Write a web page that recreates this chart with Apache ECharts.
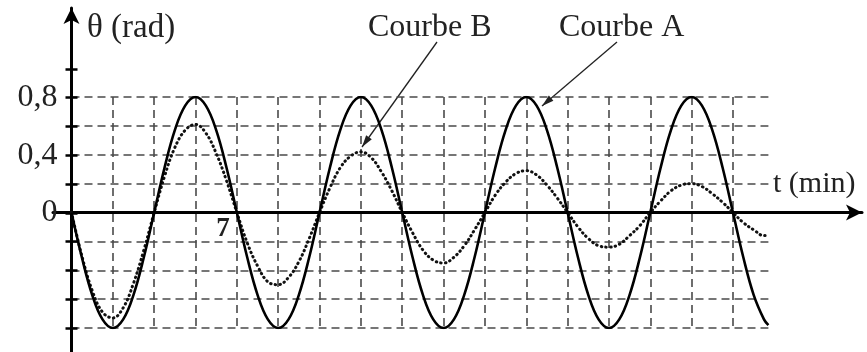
<!DOCTYPE html>
<html><head><meta charset="utf-8">
<script src="https://cdn.jsdelivr.net/npm/echarts@6/dist/echarts.min.js"></script>
<style>html,body{margin:0;padding:0;background:#fff}#c{width:867px;height:352px}</style>
</head><body><div id="c"></div>
<script>
// time samples (min)
const times = [
  0, 0.4375, 0.875, 1.3125, 1.75, 2.1875, 2.625, 3.0625,
  3.5, 3.9375, 4.375, 4.8125, 5.25, 5.6875, 6.125, 6.5625,
  7, 7.4375, 7.875, 8.3125, 8.75, 9.1875, 9.625, 10.0625,
  10.5, 10.9375, 11.375, 11.8125, 12.25, 12.6875, 13.125, 13.5625,
  14, 14.4375, 14.875, 15.3125, 15.75, 16.1875, 16.625, 17.0625,
  17.5, 17.9375, 18.375, 18.8125, 19.25, 19.6875, 20.125, 20.5625,
  21, 21.4375, 21.875, 22.3125, 22.75, 23.1875, 23.625, 24.0625,
  24.5, 24.9375, 25.375, 25.8125, 26.25, 26.6875, 27.125, 27.5625,
  28, 28.4375, 28.875, 29.3125, 29.5
];
// Courbe A (rad)
const courbeA = [
  0, -0.31, -0.57, -0.74, -0.8, -0.74, -0.57, -0.31,
  0, 0.31, 0.57, 0.74, 0.8, 0.74, 0.57, 0.31,
  0, -0.31, -0.57, -0.74, -0.8, -0.74, -0.57, -0.31,
  0, 0.31, 0.57, 0.74, 0.8, 0.74, 0.57, 0.31,
  0, -0.31, -0.57, -0.74, -0.8, -0.74, -0.57, -0.31,
  0, 0.31, 0.57, 0.74, 0.8, 0.74, 0.57, 0.31,
  0, -0.31, -0.57, -0.74, -0.8, -0.74, -0.57, -0.31,
  0, 0.31, 0.57, 0.74, 0.8, 0.74, 0.57, 0.31,
  0, -0.31, -0.57, -0.74, -0.78
];
// Courbe B (rad)
const courbeB = [
  0, -0.30, -0.54, -0.69, -0.73, -0.66, -0.49, -0.26,
  0, 0.25, 0.45, 0.57, 0.61, 0.55, 0.41, 0.22,
  0, -0.21, -0.37, -0.48, -0.50, -0.45, -0.34, -0.18,
  0, 0.17, 0.31, 0.39, 0.42, 0.38, 0.28, 0.15,
  0, -0.14, -0.26, -0.33, -0.35, -0.31, -0.23, -0.12,
  0, 0.12, 0.21, 0.27, 0.29, 0.26, 0.19, 0.10,
  0, -0.10, -0.18, -0.23, -0.24, -0.22, -0.16, -0.09,
  0, 0.08, 0.15, 0.19, 0.20, 0.18, 0.13, 0.07,
  0, -0.07, -0.12, -0.16, -0.16
];
const yLabelValues = [0, 0.4, 0.8];
const yLabelTexts = ['0', '0,4', '0,8'];
const xLabelValues = [7];
const xLabelTexts = ['7'];

const FONT = 'Liberation Serif';
const pairsA = times.map((t, i) => [t, courbeA[i]]);
const pairsB = times.map((t, i) => [t, courbeB[i]]);

function lookup(vals, texts, v) {
  for (let i = 0; i < vals.length; i++) if (Math.abs(vals[i] - v) < 1e-6) return texts[i];
  return '';
}
function arrowHead(x1, y1, x2, y2, len, w) {
  const dx = x2 - x1, dy = y2 - y1, L = Math.hypot(dx, dy), ux = dx / L, uy = dy / L;
  const bx = x2 - ux * len, by = y2 - uy * len;
  return [[x2, y2], [bx - uy * w / 2, by + ux * w / 2], [bx + uy * w / 2, by - ux * w / 2]];
}
const arrows = [
  [437, 42, 362, 147],
  [617, 42, 542, 106]
];
const graphics = [];
arrows.forEach(a => {
  graphics.push({ type: 'line', shape: { x1: a[0], y1: a[1], x2: a[2], y2: a[3] }, style: { stroke: '#222', lineWidth: 1.3 }, silent: true });
  graphics.push({ type: 'polygon', shape: { points: arrowHead(a[0], a[1], a[2], a[3], 12, 7) }, style: { fill: '#222' }, silent: true });
});
const texts = [
  ['θ (rad)', 87, 28, 33],
  ['Courbe B', 368, 28, 32],
  ['Courbe A', 559, 28, 32],
  ['t (min)', 773, 184, 30]
];
texts.forEach(t => graphics.push({ type: 'text', x: t[1], y: t[2], style: { text: t[0], font: t[3] + 'px "' + FONT + '"', fill: '#222', verticalAlign: 'middle', align: 'left' }, silent: true }));

const dash = { type: [8, 5], color: '#4a4a4a', width: 1.6 };
const chart = echarts.init(document.getElementById('c'), null, { renderer: 'canvas' });
chart.setOption({
  animation: false,
  backgroundColor: '#fff',
  grid: [
    { left: 71.5, right: 98.6, top: 97, bottom: 24 },
    { left: 53, right: 5, top: 8, bottom: 0 },
    { left: 71.5, right: 98.6, top: 68.75, bottom: 24 },
    { left: 71.5, right: 98.6, top: 97, bottom: 139.5 }
  ],
  xAxis: [
    { gridIndex: 0, type: 'value', min: 0, max: 29.5, interval: 1.75,
      axisLine: { show: false }, axisTick: { show: false }, axisLabel: { show: false },
      splitLine: { show: true, showMinLine: false, showMaxLine: false, lineStyle: dash } },
    { gridIndex: 1, type: 'value', min: -0.783, max: 33.46,
      axisLine: { show: true, onZero: true, symbol: ['none', 'arrow'], symbolSize: [12, 16], lineStyle: { color: '#000', width: 3 } },
      axisTick: { show: false }, axisLabel: { show: false }, splitLine: { show: false } },
    { gridIndex: 2, type: 'value', min: 0, max: 29.5, show: false },
    { gridIndex: 3, type: 'value', position: 'bottom', min: 0, max: 29.5, interval: 1.75,
      axisLine: { show: false, onZero: false }, axisTick: { show: false }, splitLine: { show: false },
      axisLabel: { show: true, margin: 3, align: 'right', padding: [0, 7, 0, 0],
        fontFamily: FONT, fontSize: 27, fontWeight: 'bold', color: '#222',
        formatter: v => lookup(xLabelValues, xLabelTexts, v) } }
  ],
  yAxis: [
    { gridIndex: 0, type: 'value', min: -0.8, max: 0.8, interval: 0.2,
      axisLine: { show: false }, axisTick: { show: false }, axisLabel: { show: false },
      splitLine: { show: true, showMinLine: true, showMaxLine: true, lineStyle: dash } },
    { gridIndex: 1, type: 'value', min: -0.9704, max: 1.4226,
      axisLine: { show: true, onZero: true, symbol: ['none', 'arrow'], symbolSize: [12, 16], lineStyle: { color: '#000', width: 3 } },
      axisTick: { show: false }, axisLabel: { show: false }, splitLine: { show: false } },
    { gridIndex: 2, type: 'value', position: 'left', min: -0.8, max: 1.0, interval: 0.2,
      axisLine: { show: false, onZero: false }, axisTick: { show: true, inside: true, length: 6, lineStyle: { color: '#000', width: 2.5 } },
      axisLabel: { show: false }, splitLine: { show: false } },
    { gridIndex: 2, type: 'value', position: 'left', offset: 0, min: -0.8, max: 1.0, interval: 0.2,
      axisLine: { show: false, onZero: false }, axisTick: { show: true, inside: false, length: 6, lineStyle: { color: '#000', width: 2.5 } },
      axisLabel: { show: true, margin: 14, fontFamily: FONT, fontSize: 32, color: '#222',
        formatter: v => lookup(yLabelValues, yLabelTexts, v) },
      splitLine: { show: false } },
    { gridIndex: 3, type: 'value', min: 0, max: 1, show: false }
  ],
  series: [
    { type: 'line', xAxisIndex: 0, yAxisIndex: 0, data: pairsB, showSymbol: false, smooth: 0.4, silent: true, z: 3,
      lineStyle: { color: '#111', width: 3, type: [0.5, 4.2], cap: 'round' } },
    { type: 'line', xAxisIndex: 0, yAxisIndex: 0, data: pairsA, showSymbol: false, smooth: 0.4, silent: true, z: 4,
      lineStyle: { color: '#000', width: 2.6 } }
  ],
  graphic: graphics
});
</script></body></html>
